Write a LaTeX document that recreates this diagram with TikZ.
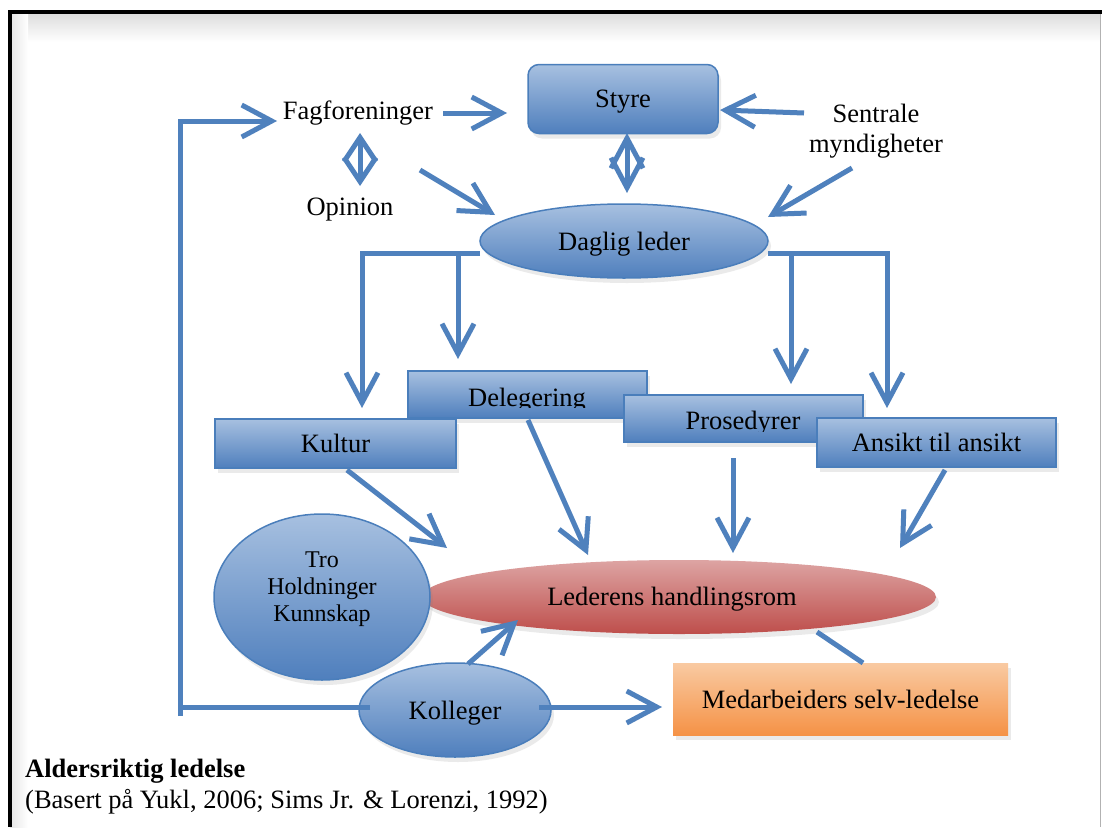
\documentclass[tikz,border=0pt]{standalone}
\usepackage{fontspec}
\setmainfont{Liberation Serif}
\usetikzlibrary{arrows.meta,shapes.geometric,shadows}

\definecolor{lineblue}{RGB}{79,129,189}
\definecolor{boxtop}{RGB}{167,192,224}
\definecolor{boxbot}{RGB}{79,127,189}
\definecolor{boxedge}{RGB}{74,126,187}
\definecolor{redtop}{RGB}{221,164,163}
\definecolor{redbot}{RGB}{190,78,75}
\definecolor{orgtop}{RGB}{249,202,162}
\definecolor{orgbot}{RGB}{245,146,70}

\begin{document}
\begin{tikzpicture}[x=1pt,y=-1pt,
  every node/.style={font=\fontsize{26.5}{30}\selectfont},
  shad/.style={drop shadow={opacity=0.16, shadow xshift=3pt, shadow yshift=-5pt}},
  bluebox/.style={rectangle, draw=boxedge, line width=1.5pt, top color=boxtop, bottom color=boxbot, shad, inner sep=0},
  blueell/.style={ellipse, draw=boxedge, line width=1.5pt, top color=boxtop, bottom color=boxbot, shad, inner sep=0},
  plain/.style={inner sep=0},
  conn/.style={draw=lineblue, line width=5pt},
  barb/.style={conn, -{Straight Barb[length=30pt,width=32pt]}},
  dbarb/.style={conn, {Straight Barb[length=#1,width=32pt]}-{Straight Barb[length=#1,width=32pt]}},
]
\useasboundingbox (0,0) rectangle (1102,827);
\fill[white] (0,0) rectangle (1102,827);

% frame
\fill[top color=black!14, bottom color=white] (10,12) rectangle (1100,42);
\fill[left color=black!10, right color=white] (10,12) rectangle (28,827);
\draw[black!30, line width=1pt] (1100,14) -- (1100,827);
\draw[black, line width=4.5pt] (8,12) -- (1102,12);
\draw[black, line width=4.5pt] (10,10) -- (10,827);

% boxes in the middle row
\node[bluebox, minimum width=239pt, minimum height=47pt] (dele) at (527.5,394.5) {};
\begin{scope}
  \clip (dele.north west) rectangle (647,407.5);
  \node[anchor=base, plain] (deletxt) at (527,406) {Delegering};
\end{scope}
\node[bluebox, minimum width=241pt, minimum height=49pt] (kultur) at (335.5,443.5) {Kultur};
\node[bluebox, minimum width=239pt, minimum height=47pt] (pros) at (743.5,418.5) {};
\begin{scope}
  \clip (pros.north west) rectangle (863,431);
  \node[anchor=base, plain] (prostxt) at (743,429) {Prosedyrer};
\end{scope}
\node[bluebox, minimum width=239pt, minimum height=49pt] (ansikt) at (936.5,442.5) {Ansikt til ansikt};

% lower shapes
\node[ellipse, draw=none, top color=redtop, bottom color=redbot, shad, minimum width=514pt, minimum height=74pt, inner sep=0] (leder) at (679,597) {};
\node[plain] (ledertxt) at (672,599) {Lederens handlingsrom};
\node[blueell, minimum width=216pt, minimum height=166pt] (tro) at (322,597) {};
\node[plain, align=center, font=\fontsize{24}{27}\selectfont] (trotxt) at (322,589) {Tro\\Holdninger\\Kunnskap};
\node[blueell, minimum width=192pt, minimum height=94pt, text depth=0pt] (koll) at (455,710) {Kolleger};
\node[rectangle, draw=none, top color=orgtop, bottom color=orgbot, shad, minimum width=335pt, minimum height=72pt, inner sep=0] (medarb) at (840.5,699) {Medarbeiders selv-ledelse};

% top shapes
\node[bluebox, rounded corners=11pt, minimum width=190pt, minimum height=69pt, text depth=0pt] (styre) at (623,99) {Styre};
\node[blueell, minimum width=288pt, minimum height=74pt, text depth=0pt] (daglig) at (624,241) {Daglig leder};
\node (fag) at (358,113) {Fagforeninger};
\node (opinion) at (350,210) {Opinion};
\node[align=center] (sen) at (876,131) {Sentrale\\myndigheter};

% captions
\node[plain, anchor=base west, font=\bfseries\fontsize{26.5}{30}\selectfont] (title) at (25,777) {Aldersriktig ledelse};
\node[plain, anchor=base west] (source) at (25,808) {(Basert på Yukl, 2006; Sims Jr. \& Lorenzi, 1992)};

% connectors
\draw[barb] ([shift={(85,0)}]fag.center) -- ([shift={(-116,14)}]styre.center);
\draw[barb] ([shift={(-72,-18)}]sen.center) -- ([shift={(97,11)}]styre.center);
\draw[dbarb=24pt] ([shift={(2,20)}]fag.center) -- ([shift={(10,-24)}]opinion.center);
\draw[dbarb=30pt] ([shift={(4,34)}]styre.center) -- ([shift={(3,-48)}]daglig.center);
\draw[barb] ([shift={(62,57)}]fag.center) -- ([shift={(-129,-26)}]daglig.center);
\draw[barb] ([shift={(-24,37)}]sen.center) -- ([shift={(144,-24)}]daglig.center);

\draw[barb] ([shift={(-144,12)}]daglig.center) -| ([shift={(26.5,-35.5)}]kultur.center);
\draw[barb] ([shift={(-166,12)}]daglig.center) -- ([shift={(-69.5,-35.5)}]dele.center);
\draw[barb] ([shift={(144,12)}]daglig.center) -| ([shift={(-49.5,-34.5)}]ansikt.center);
\draw[barb] ([shift={(167,12)}]daglig.center) -- ([shift={(47.5,-34.5)}]pros.center);

\draw[barb] ([shift={(11.5,26.5)}]kultur.center) -- ([shift={(-232,-49)}]leder.center);
\draw[barb] ([shift={(0.5,25.5)}]dele.center) -- ([shift={(-91,-42)}]leder.center);
\draw[barb] ([shift={(-10.5,39.5)}]pros.center) -- ([shift={(54,-44)}]leder.center);
\draw[barb] ([shift={(8.5,27.5)}]ansikt.center) -- ([shift={(221,-49)}]leder.center);
\draw[barb] ([shift={(13,-46)}]koll.center) -- ([shift={(-161,23)}]leder.center);
\draw[conn] ([shift={(138,35)}]leder.center) -- ([shift={(22.5,-36)}]medarb.center);
\draw[barb] ([shift={(84,-3)}]koll.center) -- ([shift={(-178.5,8)}]medarb.center);

\coordinate (fbc) at (180,707);
\draw[conn] ([shift={(-85,-3)}]koll.center) -- (fbc);
\draw[barb] ([yshift=-9pt]fbc) |- ([shift={(-81,8)}]fag.center);
\end{tikzpicture}
\end{document}
